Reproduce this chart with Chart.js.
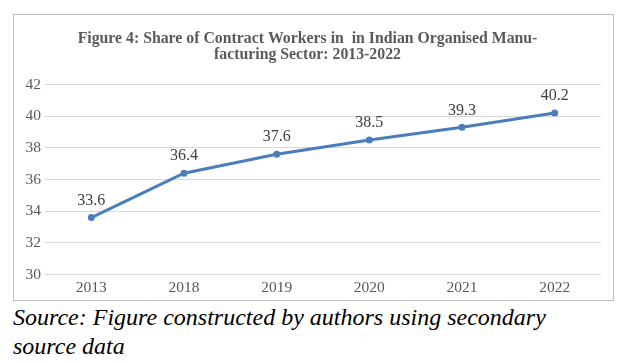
<!DOCTYPE html>
<html>
<head>
<meta charset="utf-8">
<script src="https://cdn.jsdelivr.net/npm/chart.js@4.4.0/dist/chart.umd.min.js"></script>
<style>
  body { margin: 0; background: #fff; width: 634px; height: 363px; position: relative; overflow: hidden; }
  #box { position: absolute; left: 13px; top: 14px; width: 599px; height: 285px; border: 1px solid #bfbfbf; }
  #source { position: absolute; left: 13px; top: 303px; font-family: 'Liberation Serif', 'Times New Roman', serif; font-style: italic; font-size: 24px; line-height: 29px; color: #000; white-space: nowrap; }
</style>
</head>
<body>
<div id="box"><canvas id="chart" width="599" height="285"></canvas></div>
<div id="source">Source: Figure constructed by authors using secondary<br>source data</div>
<script>
const years = ['2013', '2018', '2019', '2020', '2021', '2022'];
const contractShare = [33.6, 36.4, 37.6, 38.5, 39.3, 40.2];
const titleLines = ['Figure 4: Share of Contract Workers in  in Indian Organised Manu-', 'facturing Sector: 2013-2022'];

const serif = "'Liberation Serif', 'Times New Roman', serif";

// etiquetas de valor acima dos pontos
const valueLabels = {
    id: 'valueLabels',
    afterDatasetsDraw(chart) {
        const ctx = chart.ctx;
        const meta = chart.getDatasetMeta(0);
        ctx.save();
        ctx.font = '16px ' + serif;
        ctx.fillStyle = '#404040';
        ctx.textAlign = 'center';
        ctx.textBaseline = 'middle';
        meta.data.forEach((pt, i) => {
            ctx.fillText(contractShare[i].toFixed(1), pt.x, pt.y - 17);
        });
        ctx.restore();
    }
};

new Chart(document.getElementById('chart'), {
    type: 'line',
    data: {
        labels: years,
        datasets: [{
            data: contractShare,
            borderColor: '#4a7ebb',
            backgroundColor: '#4a7ebb',
            borderWidth: 3,
            pointRadius: 3.5,
            pointBackgroundColor: '#4a7ebb',
            pointBorderWidth: 0,
            tension: 0
        }]
    },
    options: {
        responsive: false,
        animation: false,
        layout: { padding: { left: 0, right: 12, top: 0, bottom: 0 } },
        plugins: {
            legend: { display: false },
            tooltip: { enabled: false },
            title: {
                display: true,
                text: titleLines,
                color: '#595959',
                font: { family: serif, size: 15.8, weight: 'bold', lineHeight: 1.0 },
                padding: { top: 16, bottom: 22 }
            }
        },
        scales: {
            x: {
                offset: true,
                grid: { display: false, drawTicks: false },
                border: { display: false },
                ticks: { color: '#595959', font: { family: serif, size: 15.5 }, padding: 4 },
                afterFit: (scale) => { scale.height = 25.5; }
            },
            y: {
                min: 30,
                max: 42,
                ticks: { stepSize: 2, color: '#595959', font: { family: serif, size: 15.5 }, padding: 4 },
                grid: { color: '#d9d9d9', lineWidth: 1, drawTicks: false },
                border: { display: false },
                afterFit: (scale) => { scale.width = 31; }
            }
        }
    },
    plugins: [valueLabels]
});
</script>
</body>
</html>
